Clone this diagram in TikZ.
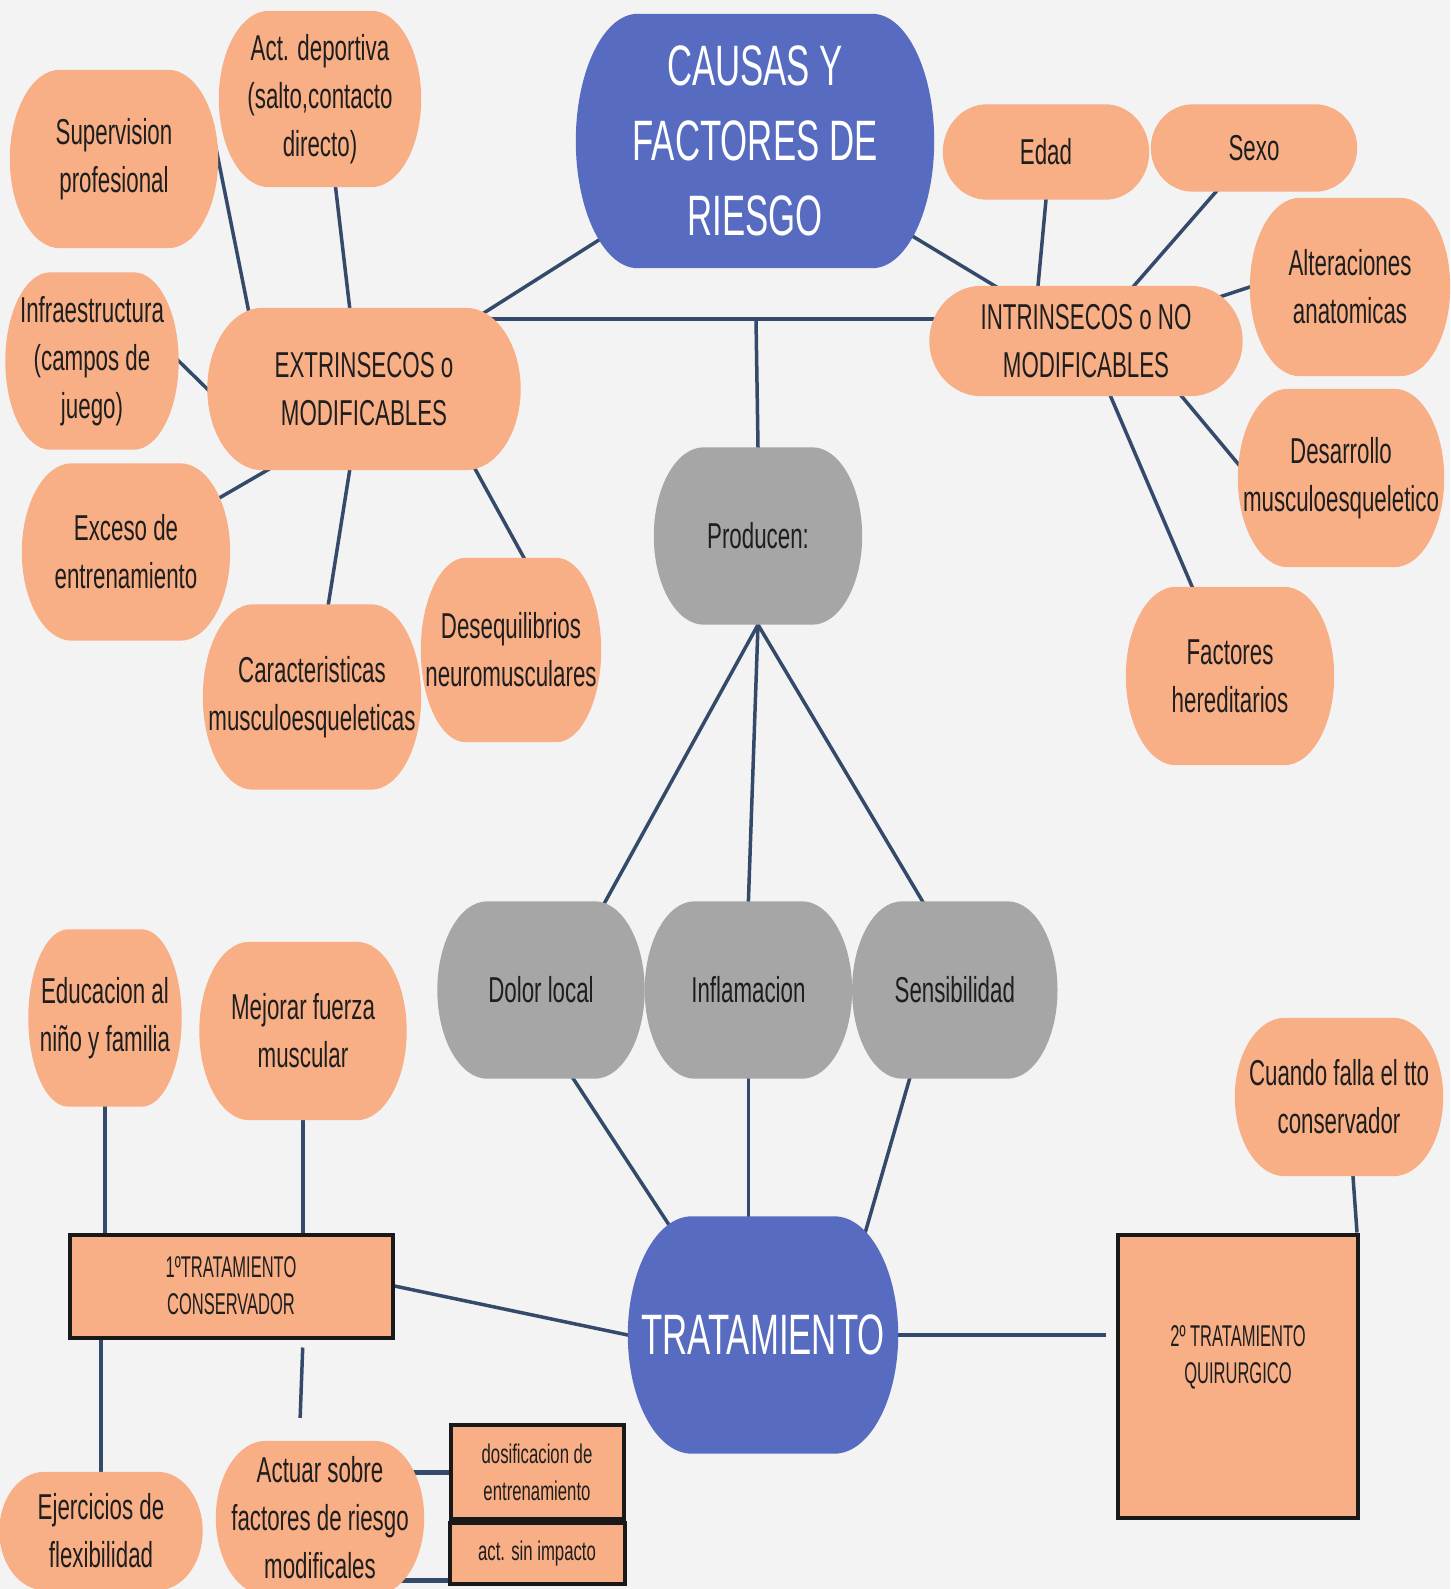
\documentclass[tikz,border=0pt]{standalone}
\usepackage{fontspec}
\setmainfont[FakeStretch=0.62]{Liberation Sans}
\newfontfamily\bannerfont[FakeStretch=0.61]{Liberation Sans}
\newfontfamily\panelfont[FakeStretch=0.55]{Liberation Sans}
\usetikzlibrary{positioning, calc}
\definecolor{sheetgray}{HTML}{F3F3F3}
\definecolor{peach}{HTML}{F8AF86}
\definecolor{causeblue}{HTML}{576BC1}
\definecolor{stone}{HTML}{A6A6A6}
\definecolor{wire}{HTML}{344A6B}
\definecolor{ink}{HTML}{1E1E1E}
\pgfdeclarelayer{sheet}
\pgfdeclarelayer{wires}
\pgfdeclarelayer{blobs}
\pgfsetlayers{sheet,wires,blobs,main}

\begin{document}
\begin{tikzpicture}[x=1pt, y=-1pt,
  txt/.style={align=center, inner sep=0pt, text=ink, font=\fontsize{36}{48}\selectfont},
  sz/.style 2 args={minimum width=#1pt, minimum height=#2pt},
  core/.style={txt, text=white, font=\bannerfont\fontsize{57}{75}\selectfont},
  plan/.style={txt, draw=black!90, line width=4pt, fill=peach,
               font=\panelfont\fontsize{30}{37}\selectfont},
  minor/.style={font=\fontsize{27}{37}\selectfont},
  wireline/.style={draw=wire, line width=3.5pt, shorten <=-30pt, shorten >=-30pt}]
  \useasboundingbox (0,0) rectangle (1450,1589);
  \begin{pgfonlayer}{sheet}
    \fill[sheetgray] (0,0) rectangle (1450,1589);
  \end{pgfonlayer}

  \node[core, sz={358}{254}] (causas) at (755,141) {CAUSAS Y\\FACTORES DE\\RIESGO};
  \node[txt, sz={313}{162}] (extr) at (364,389) {EXTRINSECOS o\\MODIFICABLES};
  \node[txt, sz={313}{110}] (intr) at (1086,341) {INTRINSECOS o NO\\MODIFICABLES};
  \coordinate (fork) at (756,319);
  \node[txt, sz={208}{177}] (produce) at (758,536) {Producen:};

  \node[txt, sz={208}{178}] (superv) at (114,159) {Supervision\\profesional};
  \node[txt, sz={202}{176}] (actdep) at (320,99) {Act. deportiva\\(salto,contacto\\directo)};
  \node[txt, sz={173}{177}] (infra) at (92,361) {Infraestructura\\(campos de\\juego)};
  \node[txt, sz={208}{177}] (exceso) at (126,552) {Exceso de\\entrenamiento};
  \node[txt, sz={218}{185}] (caract) at (312,697) {Caracteristicas\\musculoesqueleticas};
  \node[txt, sz={180}{184}] (deseq) at (511,650) {Desequilibrios\\neuromusculares};

  \node[txt, sz={206}{95}] (edad) at (1046,152) {Edad};
  \node[txt, sz={206}{87}] (sexo) at (1254,148) {Sexo};
  \node[txt, sz={200}{178}] (alter) at (1350,287) {Alteraciones\\anatomicas};
  \node[txt, sz={206}{178}] (desarr) at (1341,478) {Desarrollo\\musculoesqueletico};
  \node[txt, sz={208}{178}] (hered) at (1230,676) {Factores\\hereditarios};

  \node[txt, sz={207}{177}] (dolor) at (541,990) {Dolor local};
  \node[txt, sz={207}{177}, right=0pt of dolor] (inflam) {Inflamacion};
  \node[txt, sz={205}{177}, right=0pt of inflam] (sensib) {Sensibilidad};

  \node[core, sz={270}{237}] (tratam) at (763,1335) {TRATAMIENTO};
  \node[plan, sz={323}{103}] (conserv) at (231,1286) {1ºTRATAMIENTO\\CONSERVADOR};
  \node[plan, sz={240}{283}] (quirur) at (1238,1376) {2º TRATAMIENTO\\QUIRURGICO\\[6pt]\mbox{}};
  \node[txt, sz={208}{158}] (falla) at (1339,1097) {Cuando falla el tto\\conservador};
  \node[txt, sz={153}{177}] (educ) at (105,1018) {Educacion al\\niño y familia};
  \node[txt, sz={207}{178}] (fuerza) at (303,1031) {Mejorar fuerza\\muscular};
  \node[txt, sz={203}{118}] (flexib) at (101,1531) {Ejercicios de\\flexibilidad};
  \node[txt, sz={208}{154}] (actuar) at (320,1518) {Actuar sobre\\factores de riesgo\\modificales};
  \node[plan, minor, sz={173}{94}] (dosif) at (537,1472) {dosificacion de\\entrenamiento};
  \node[plan, minor, sz={175}{61}] (sinimp) at (537,1553) {act. sin impacto};
  \coordinate (lowtie) at ([yshift=5pt]sinimp.south west);

  \begin{pgfonlayer}{blobs}
    \foreach \n/\c/\r in {superv/peach/50, actdep/peach/50, infra/peach/45, extr/peach/55,
        exceso/peach/50, caract/peach/50, deseq/peach/45, edad/peach/44, sexo/peach/42,
        alter/peach/50, intr/peach/52, desarr/peach/50, hered/peach/50, falla/peach/50,
        educ/peach/40, fuerza/peach/50, flexib/peach/45, actuar/peach/50,
        produce/stone/50, dolor/stone/50, inflam/stone/50, sensib/stone/50,
        causas/causeblue/62, tratam/causeblue/64}
      \fill[\c] ([xshift=-\r]\n.north east)
        .. controls ([xshift=-.45*\r]\n.north east) and ($(\n.east)!.55!(\n.north east)$) .. (\n.east)
        .. controls ($(\n.east)!.55!(\n.south east)$) and ([xshift=-.45*\r]\n.south east) .. ([xshift=-\r]\n.south east)
        -- ([xshift=\r]\n.south west)
        .. controls ([xshift=.45*\r]\n.south west) and ($(\n.west)!.55!(\n.south west)$) .. (\n.west)
        .. controls ($(\n.west)!.55!(\n.north west)$) and ([xshift=.45*\r]\n.north west) .. ([xshift=\r]\n.north west)
        -- cycle;
  \end{pgfonlayer}

  \begin{pgfonlayer}{wires}
    \draw[wireline] (causas.center) -- (extr.center);
    \draw[wireline] (causas.center) -- (intr.center);
    \draw[wireline] (extr.center |- fork) -- (intr.center |- fork);
    \draw[wireline, shorten <=0pt] (fork) -- (produce.north);
    \draw[wireline] (superv.east) -- (extr.145);
    \draw[wireline] (actdep.-80) -- (extr.100);
    \draw[wireline] (infra.east) -- (extr.west);
    \draw[wireline] (exceso.center) -- (extr.-140);
    \draw[wireline] (caract.80) -- (extr.-100);
    \draw[wireline] (deseq.82) -- (extr.-36);
    \draw[wireline] (edad.south) -- (intr.131);
    \draw[wireline] (sexo.-131) -- (intr.49);
    \draw[wireline] (alter.west) -- (intr.center);
    \draw[wireline] (desarr.172) -- (intr.-30);
    \draw[wireline] (hered.113) -- (intr.-66);
    \draw[wireline] (produce.south) -- (dolor.54);
    \draw[wireline] (produce.south) -- (inflam.north);
    \draw[wireline] (produce.south) -- (sensib.110);
    \draw[wireline] (dolor.-70) -- (tratam.130);
    \draw[wireline] (inflam.south) -- (inflam.south |- tratam.north);
    \draw[wireline] (sensib.-117) -- (tratam.48);
    \draw[wireline] (conserv.east) -- (tratam.west);
    \draw[wireline, shorten <=0pt, shorten >=10pt] (tratam.center) -- (tratam.center -| quirur.west);
    \draw[wireline, shorten >=0pt] (falla.-80) -- ([xshift=-3pt]quirur.north east);
    \draw[wireline] (educ.south) -- (educ.south |- conserv.north);
    \draw[wireline] (fuerza.south) -- (fuerza.south |- conserv.north);
    \draw[wireline] (flexib.north |- conserv.south) -- (flexib.north);
    \draw[wireline, shorten <=8pt, shorten >=23pt] (conserv.south -| fuerza.south) -- (actuar.105);
    \draw[wireline, line width=5pt] (dosif.west) -- (dosif.west -| actuar.east);
    \draw[wireline, line width=5pt] (lowtie) -- (lowtie -| actuar.east);
  \end{pgfonlayer}
\end{tikzpicture}
\end{document}
